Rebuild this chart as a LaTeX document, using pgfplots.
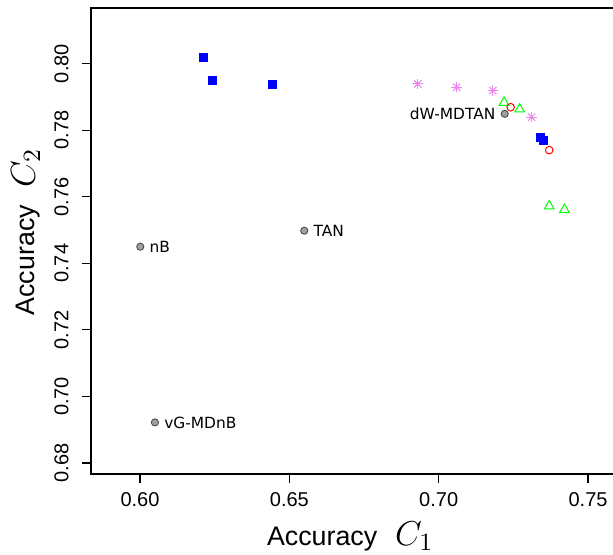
\documentclass[border=0pt]{standalone}
\usepackage{pgfplots}
\pgfplotsset{compat=1.18}
\usepackage{fontspec}
\usepackage{graphicx}
\setmainfont{Liberation Sans}
\newfontfamily\dejavu{DejaVu Sans}

\definecolor{rblue}{RGB}{0,0,255}
\definecolor{rred}{RGB}{255,0,0}
\definecolor{rgreen}{RGB}{0,255,0}
\definecolor{rviolet}{RGB}{238,130,238}
\definecolor{rgrey}{RGB}{160,160,160}

% R plotmath style subscript (a bit larger than TeX's)
\newcommand{\accsub}[1]{\scalebox{1.2}{$C_{\scalebox{1.15}{$\scriptstyle #1$}}$}}

\begin{document}
\begin{tikzpicture}
\begin{axis}[
  scale only axis,
  width=264.5pt, height=233pt,
  xmin=0.5836, xmax=0.7607,
  ymin=0.6767, ymax=0.8167,
  xtick={0.60,0.65,0.70,0.75},
  ytick={0.68,0.70,0.72,0.74,0.76,0.78,0.80},
  scaled ticks=false,
  /pgf/number format/fixed,
  /pgf/number format/fixed zerofill,
  /pgf/number format/precision=2,
  /pgf/number format/assume math mode=true,
  tick align=outside,
  xtick pos=left, ytick pos=left,
  major tick length=4.5pt,
  tick style={black, line width=0.6pt},
  axis line style={black, line width=0.6pt},
  tick label style={font=\fontsize{10}{12}\selectfont, inner sep=0pt},
  xticklabel shift=4.5pt,
  yticklabel style={rotate=90, anchor=south},
  yticklabel shift=6.5pt,
  xlabel={Accuracy\hspace{9pt}\accsub{1}},
  ylabel={Accuracy\hspace{9pt}\accsub{2}},
  label style={font=\fontsize{13.4}{16}\selectfont, inner sep=0pt},
  xlabel style={at={(axis description cs:0.49,-0.1524)}, anchor=base},
  ylabel style={at={(axis description cs:-0.1059,0.519)}, anchor=base, rotate=0},
]
% blue filled squares
\addplot[only marks, mark=square*, mark size=2pt, color=rblue]
  coordinates {(0.6211,0.8019) (0.6241,0.7949) (0.6442,0.7939) (0.7340,0.7779) (0.7351,0.7770)};
% violet asterisks (plus and cross)
\addplot[only marks, mark=+, mark size=2.6pt, color=rviolet, line width=0.5pt]
  coordinates {(0.6930,0.7939) (0.7060,0.7929) (0.7181,0.7919) (0.7311,0.7839)};
\addplot[only marks, mark=x, mark size=2.6pt, color=rviolet, line width=0.5pt]
  coordinates {(0.6930,0.7939) (0.7060,0.7929) (0.7181,0.7919) (0.7311,0.7839)};
% green open triangles
\addplot[only marks, mark=triangle, mark size=2.8pt, color=rgreen, line width=0.5pt]
  coordinates {(0.7219,0.7883) (0.7271,0.7863) (0.7370,0.7572) (0.7421,0.7561)};
% red open circles
\addplot[only marks, mark=o, mark size=1.9pt, color=rred, line width=0.5pt]
  coordinates {(0.7241,0.7869) (0.7370,0.7740)};
% labelled reference models
\addplot[only marks, mark=*, mark size=1.8pt,
  mark options={fill=rgrey, draw=black!75, line width=0.4pt},
  nodes near coords, point meta=explicit symbolic,
  every node near coord/.style={anchor=west, xshift=4.5pt, inner sep=0pt, black,
    font=\dejavu\fontsize{7.7}{9}\selectfont}]
  table[meta=label] {
x y label
0.6001 0.7450 nB
0.6550 0.7498 TAN
0.6050 0.6922 vG-MDnB
};
\addplot[only marks, mark=*, mark size=1.8pt,
  mark options={fill=rgrey, draw=black!75, line width=0.4pt},
  nodes near coords, point meta=explicit symbolic,
  every node near coord/.style={anchor=east, xshift=-4.5pt, inner sep=0pt, black,
    font=\dejavu\fontsize{7.7}{9}\selectfont}]
  table[meta=label] {
x y label
0.7221 0.7849 dW-MDTAN
};
\end{axis}
\pgfresetboundingbox
\useasboundingbox (-45.5pt,-40pt) rectangle (261pt,237pt);
\end{tikzpicture}
\end{document}
